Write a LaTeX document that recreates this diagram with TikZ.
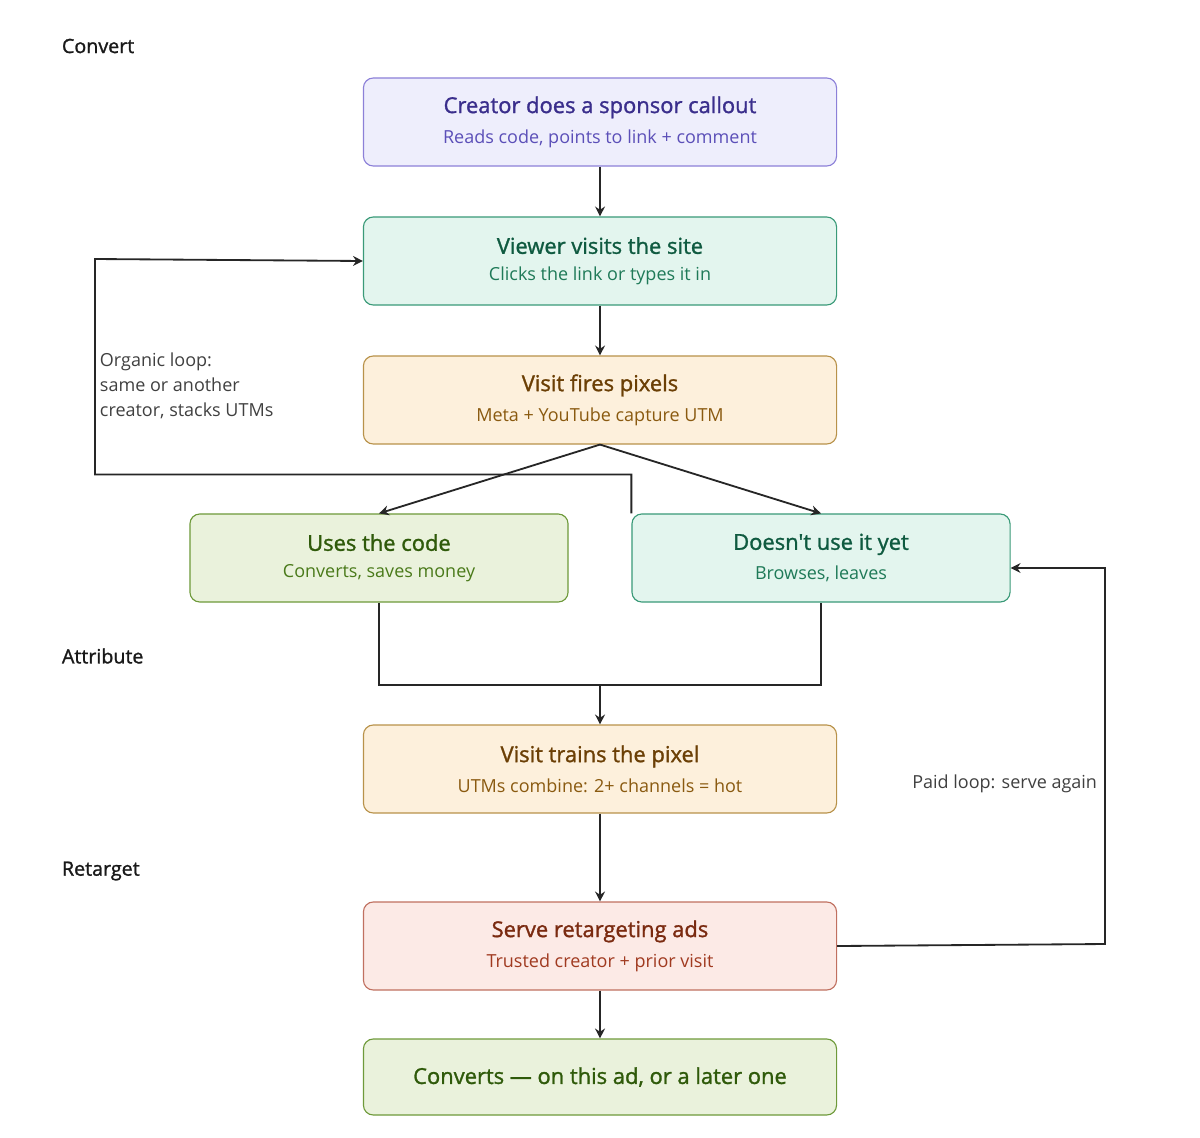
\documentclass[tikz,border=0pt]{standalone}
\usepackage{fontspec}
\setmainfont{Open Sans}
\newfontfamily\semi[RawFeature={embolden=1.3}]{Open Sans}
\usetikzlibrary{arrows.meta}
\definecolor{pF}{HTML}{EEEEFC}\definecolor{pB}{HTML}{8C80D8}\definecolor{pT}{HTML}{3A2E8C}\definecolor{pS}{HTML}{5B4FB8}
\definecolor{tF}{HTML}{E3F5EE}\definecolor{tB}{HTML}{3A9A78}\definecolor{tT}{HTML}{0F5A40}\definecolor{tS}{HTML}{1F7A58}
\definecolor{oF}{HTML}{FDF0DC}\definecolor{oB}{HTML}{B8924A}\definecolor{oT}{HTML}{6B3F05}\definecolor{oS}{HTML}{8A5A10}
\definecolor{gF}{HTML}{EAF2DC}\definecolor{gB}{HTML}{6E9A3A}\definecolor{gT}{HTML}{2F5A0A}\definecolor{gS}{HTML}{4A7A1A}
\definecolor{rF}{HTML}{FCEAE6}\definecolor{rB}{HTML}{C07060}\definecolor{rT}{HTML}{7A2A10}\definecolor{rS}{HTML}{A03A20}
\begin{document}
\begin{tikzpicture}[x=0.025cm,y=-0.025cm,
  box/.style={draw,rounded corners=7pt,line width=0.8pt,minimum height=2.2cm,align=center,inner sep=0pt},
  wide/.style={box,minimum width=11.825cm},
  narrow/.style={box,minimum width=9.45cm},
  tt/.style={font=\semi\fontsize{15.6}{19}\selectfont},
  lab/.style={font=\semi\fontsize{14}{18}\selectfont,text=black!90},
  con/.style={line width=1.3pt,black!85,-{Stealth[length=7pt,width=7pt]}},
  ln/.style={line width=1.3pt,black!85}]
\useasboundingbox (0,0) rectangle (1200,1137);
\def\two#1#2#3#4{{\color{#3}\semi\fontsize{15.6}{19}\selectfont #1}\\[7pt]{\color{#4}\fontsize{12.8}{16}\selectfont #2}}
\node[wide,fill=pF,draw=pB] (a) at (600,122) {\two{Creator does a sponsor callout}{Reads code, points to link + comment}{pT}{pS}};
\node[wide,fill=tF,draw=tB] (b) at (600,261) {\two{Viewer visits the site}{Clicks the link or types it in}{tT}{tS}};
\node[wide,fill=oF,draw=oB] (c) at (600,400) {\two{Visit fires pixels}{Meta + YouTube capture UTM}{oT}{oS}};
\node[narrow,fill=gF,draw=gB] (d) at (379,558) {\two{Uses the code}{Converts, saves money}{gT}{gS}};
\node[narrow,fill=tF,draw=tB] (e) at (821,558) {\two{Doesn't use it yet}{Browses, leaves}{tT}{tS}};
\node[wide,fill=oF,draw=oB] (f) at (600,769) {\two{Visit trains the pixel}{UTMs combine: 2+ channels = hot}{oT}{oS}};
\node[wide,fill=rF,draw=rB] (g) at (600,946) {\two{Serve retargeting ads}{Trusted creator + prior visit}{rT}{rS}};
\node[wide,fill=gF,draw=gB,minimum height=1.9cm,tt,text=gT] (h) at (600,1077) {Converts — on this ad, or a later one};
\node[lab,anchor=west] (l1) at (57,46) {Convert};
\node[lab,anchor=west] (l2) at (57,656) {Attribute};
\node[lab,anchor=west] (l3) at (57,871) {Retarget};
\node[lab,anchor=north west,align=left,font=\fontsize{12.8}{17.7}\selectfont,text=black!75] (org) at (95,348) {Organic loop:\\same or another\\creator, stacks UTMs};
\node[lab,anchor=east,font=\fontsize{12.8}{16}\selectfont,text=black!75] (paid) at (1102,784) {Paid loop: serve again};
\draw[con] (a) -- (b);
\draw[con] (b) -- (c);
\draw[con] (c.south) -- (d.north);
\draw[con] (c.south) -- (e.north);
\coordinate (m) at (600,685);
\draw[ln] (d.south) |- (m) -| (e.south);
\draw[con] (m) -- (f.north);
\draw[con] (f) -- (g);
\draw[con] (g) -- (h);
\draw[con] (e.north west) -- ++(0,-39) -| (95,259) -- (b.west);
\draw[con] (g.east) -- (1105,944) |- ([yshift=-10*0.025cm]e.east);
\end{tikzpicture}
\end{document}
